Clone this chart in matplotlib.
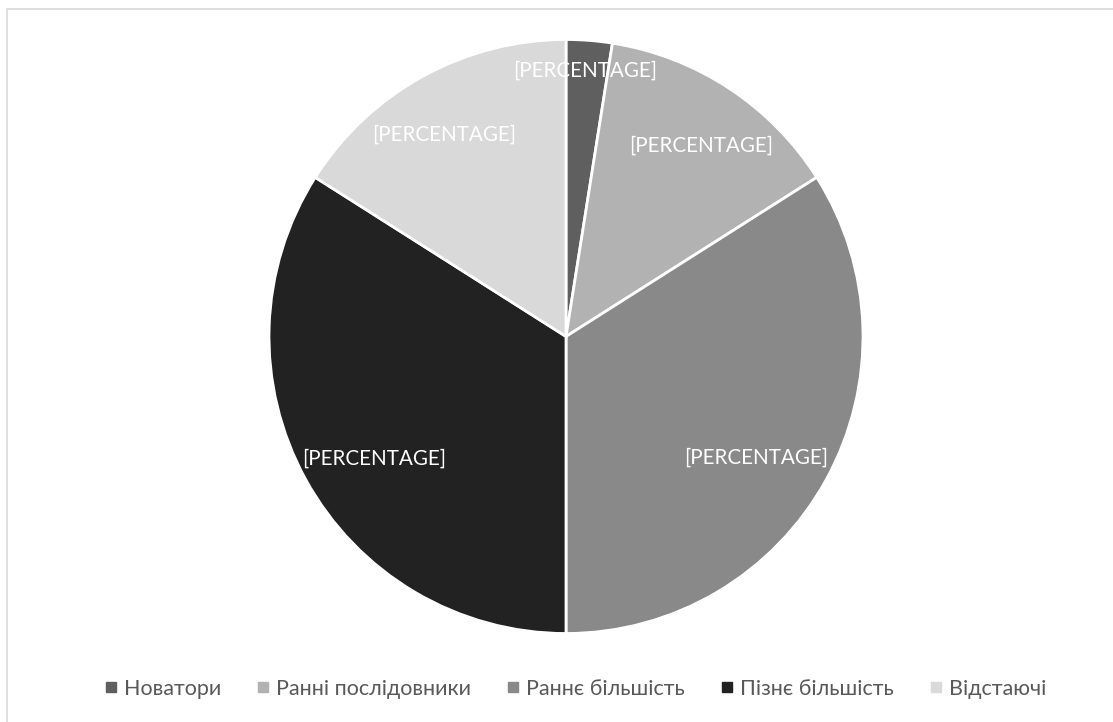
import matplotlib
matplotlib.use('Agg')
import matplotlib.pyplot as plt
from matplotlib.lines import Line2D
from matplotlib.patches import Rectangle
import numpy as np

plt.rcParams['font.family'] = ['Lato', 'DejaVu Sans']

categories = ['Новатори', 'Ранні послідовники', 'Раннє більшість', 'Пізнє більшість', 'Відстаючі']
shares = [2.5, 13.5, 34, 34, 16]
colors = ['#5f5f5f', '#b2b2b2', '#898989', '#222222', '#d9d9d9']
label_text = '[PERCENTAGE]'

W, H = 1113, 722
fig = plt.figure(figsize=(W / 100, H / 100), dpi=100)
fig.patch.set_facecolor('white')

# axes in pixel units so the pie sits where we want it
ax = fig.add_axes([0, 0, 1, 1])

# chart frame (only top and left edges fall inside the image)
ax.add_patch(Rectangle((7, -20), W + 20, H - 9 + 20, fill=False,
                       edgecolor='#d9d9d9', lw=1.2))

cx, cy, r = 566, H - 336.5, 297
wedges, _ = ax.pie(shares, colors=colors, startangle=90, counterclock=False,
                   center=(cx, cy), radius=r, frame=True,
                   wedgeprops=dict(edgecolor='white', linewidth=2.0))
ax.set_xlim(0, W)
ax.set_ylim(0, H)
ax.set_aspect('equal')
ax.axis('off')

# data labels: radial distance and a small angular nudge per slice
dists = [0.898, 0.788, 0.758, 0.767, 0.794]
nudge = [0.4, -2.0, -3.7, 3.6, 2.2]
for w, d, n in zip(wedges, dists, nudge):
    ang = np.deg2rad((w.theta1 + w.theta2) / 2 + n)
    ax.text(cx + d * r * np.cos(ang), cy + d * r * np.sin(ang), label_text,
            color='white', fontsize=14.9, ha='center', va='center')

handles = [Line2D([], [], marker='s', ls='', color=c, markersize=6.5) for c in colors]
leg = fig.legend(handles, categories, loc='center', bbox_to_anchor=(0.516, 1 - 689 / H),
                 ncol=5, frameon=False, fontsize=15.5, handletextpad=0.2,
                 columnspacing=1.55, handlelength=0.8)
for t in leg.get_texts():
    t.set_color('#595959')

fig.savefig('out.png', dpi=100, facecolor='white')
